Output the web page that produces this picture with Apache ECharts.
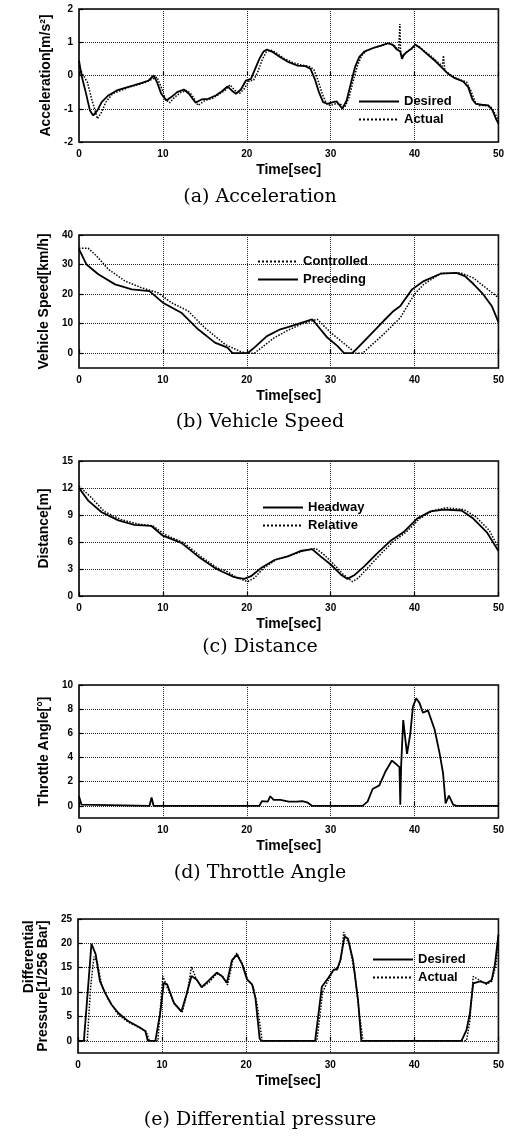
<!DOCTYPE html>
<html>
<head>
<meta charset="utf-8">
<script src="https://cdn.jsdelivr.net/npm/echarts@6.0.0/dist/echarts.min.js"></script>
<style>
html, body { margin: 0; padding: 0; background: #fff; }
#chart { width: 507px; height: 1137px; }
</style>
</head>
<body>
<div id="chart"></div>
<script>
// tick labels
const timeTicks = [0, 10, 20, 30, 40, 50];
const accTicks = [-2, -1, 0, 1, 2];
const speedTicks = [0, 10, 20, 30, 40];
const distTicks = [0, 3, 6, 9, 12, 15];
const throttleTicks = [0, 2, 4, 6, 8, 10];
const pressureTicks = [0, 5, 10, 15, 20, 25];

// (a) acceleration [m/s^2]
const accDesT = [0, 0.3, 0.8, 1.3, 1.7, 2.2, 2.7, 3.5, 4.5, 5.5, 6.5, 7.5, 8.3, 8.9, 9.3, 9.8, 10.4, 11, 11.7, 12.5, 13.1, 13.9, 14.6, 15.4, 16.3, 17, 17.7, 18.2, 18.7, 19.3, 19.9, 20.5, 21, 21.5, 22, 22.4, 23, 24, 25, 26, 27, 27.6, 28.1, 28.6, 29.1, 29.6, 30.3, 30.7, 31.4, 31.9, 32.4, 32.9, 33.4, 34, 35, 36, 36.8, 37.4, 37.9, 38.3, 38.5, 38.8, 39.5, 40.1, 40.8, 41.6, 42.4, 43.2, 44, 44.8, 45.8, 46.4, 46.9, 47.3, 48, 48.8, 49.3, 49.7, 50];
const accDes = [0.45, 0, -0.5, -1.05, -1.2, -1.05, -0.8, -0.6, -0.45, -0.37, -0.3, -0.22, -0.15, 0, -0.2, -0.55, -0.75, -0.65, -0.5, -0.42, -0.55, -0.82, -0.72, -0.7, -0.6, -0.48, -0.33, -0.45, -0.55, -0.42, -0.15, -0.1, 0.2, 0.5, 0.72, 0.78, 0.72, 0.55, 0.4, 0.3, 0.28, 0.2, -0.1, -0.5, -0.8, -0.85, -0.8, -0.78, -1.0, -0.75, -0.25, 0.25, 0.55, 0.72, 0.82, 0.9, 0.97, 0.92, 0.78, 0.72, 0.5, 0.65, 0.78, 0.93, 0.8, 0.62, 0.45, 0.25, 0.05, -0.08, -0.18, -0.35, -0.72, -0.85, -0.88, -0.9, -1.05, -1.3, -1.45];
const accActT = [0, 0.4, 1.0, 1.5, 2.2, 2.7, 3.2, 4, 5, 6, 7, 8, 8.8, 9.3, 9.8, 10.3, 10.8, 11.4, 12.2, 12.9, 13.5, 14.2, 15, 15.8, 16.6, 17.4, 18, 18.6, 19.1, 19.7, 20.3, 20.8, 21.3, 21.8, 22.3, 22.8, 23.4, 24.4, 25.4, 26.4, 27.4, 28, 28.5, 29, 29.5, 30, 30.6, 31.1, 31.7, 32.2, 32.7, 33.2, 33.7, 34.3, 35.3, 36.3, 37, 37.6, 38.1, 38.25, 38.35, 38.45, 38.7, 39.1, 39.8, 40.4, 41.1, 41.9, 42.7, 43.3, 43.45, 43.6, 44.3, 45.1, 46.2, 46.7, 47.2, 47.7, 48.4, 49.1, 49.6, 50];
const accAct = [0.3, 0.05, -0.2, -0.7, -1.3, -1.1, -0.8, -0.55, -0.45, -0.35, -0.28, -0.2, -0.1, -0.05, -0.35, -0.7, -0.82, -0.65, -0.5, -0.45, -0.6, -0.9, -0.75, -0.7, -0.58, -0.45, -0.28, -0.45, -0.55, -0.4, -0.15, -0.15, 0.1, 0.45, 0.7, 0.77, 0.7, 0.52, 0.4, 0.32, 0.28, 0.18, -0.15, -0.55, -0.85, -0.9, -0.85, -0.85, -0.95, -0.65, -0.15, 0.3, 0.6, 0.75, 0.85, 0.92, 0.97, 0.9, 0.75, 1.55, 0.6, 0.65, 0.6, 0.72, 0.82, 0.9, 0.75, 0.6, 0.42, 0.28, 0.6, 0.15, 0.02, -0.1, -0.2, -0.45, -0.78, -0.9, -0.9, -0.95, -1.15, -1.35];

// (b) vehicle speed [km/h]
const spdPreT = [0, 0.9, 2.3, 4.3, 6.3, 8.4, 10, 12.2, 14.2, 16.2, 17.7, 18.3, 20.1, 20.9, 22.4, 24, 25, 26.5, 27.8, 29.6, 30.8, 31.6, 32.6, 34.4, 36.3, 37.5, 38.3, 39.7, 41.1, 43.1, 45, 46, 47, 48.2, 49.2, 50];
const spdPre = [35.2, 30, 26.7, 23.3, 21.6, 21, 17.1, 13.7, 8.1, 3.6, 1.9, 0, 0, 1.9, 5.8, 8.1, 8.9, 10.3, 11.5, 5.3, 2.5, 0, 0, 5.3, 10.9, 14.3, 16, 21.6, 24.4, 26.9, 27.2, 26.1, 23.5, 19.9, 16, 10.5];
const spdConT = [0, 1.1, 2.1, 3.5, 5.5, 7.4, 9.4, 11, 13, 15, 17.4, 19.3, 20, 20.9, 23.3, 25, 26.5, 28.4, 30, 31.5, 33, 33.8, 36.3, 38.3, 40, 41.1, 43.1, 45.5, 47, 49, 50];
const spdCon = [35.5, 35.5, 32.9, 28.4, 24.4, 22.2, 20.5, 17.1, 14.3, 8.6, 3, 0.5, 0, 0, 5.3, 7.9, 9.8, 11.5, 7, 3.5, 0, 0, 6.4, 12, 20, 23.3, 27, 27.2, 25.5, 21, 18.8];

// (c) distance [m]
const distHeadT = [0, 1.1, 2.7, 4.7, 6.6, 8.6, 10, 12.2, 14.2, 16.2, 17.1, 18.5, 19.7, 20.5, 21.7, 23.3, 24.9, 26.4, 27.8, 28.8, 30, 31.2, 32, 32.8, 34, 35.6, 37.1, 38.7, 40.3, 41.9, 43.5, 45.6, 47, 48.6, 50];
const distHead = [12, 10.6, 9.3, 8.4, 7.9, 7.8, 6.7, 5.9, 4.4, 3.1, 2.7, 2.1, 1.9, 2.2, 3.1, 4.0, 4.4, 5.0, 5.2, 4.4, 3.5, 2.4, 1.9, 2.3, 3.3, 4.8, 6.1, 7.1, 8.6, 9.4, 9.6, 9.5, 8.6, 7.1, 5.0];
const distRelT = [0, 1.4, 3, 5, 7, 8.8, 10.3, 12.5, 14.5, 16.5, 17.5, 18.9, 20.1, 20.9, 22, 23.6, 25.2, 26.7, 28.2, 29.2, 30.4, 31.5, 32.6, 33.3, 34.4, 36, 37.4, 39, 40.6, 42.2, 43.8, 45.9, 47.3, 48.9, 50];
const distRel = [12.2, 11, 9.4, 8.5, 8.0, 7.8, 6.8, 5.9, 4.4, 3.1, 2.8, 2.0, 1.6, 2.0, 3.1, 4.1, 4.5, 5.0, 5.3, 4.6, 3.5, 2.4, 1.6, 2.0, 3.1, 4.7, 6.0, 7.1, 8.6, 9.5, 9.8, 9.6, 8.8, 7.3, 5.4];

// (d) throttle angle [deg]
const thrT = [0, 0.3, 0.4, 8.4, 8.65, 8.9, 21.5, 21.8, 22.5, 22.8, 23.2, 24, 25, 26, 26.6, 27.2, 27.8, 33.8, 34.4, 35, 35.8, 36.5, 37.3, 37.9, 38.2, 38.3, 38.4, 38.65, 39.1, 39.5, 39.8, 40.2, 40.6, 41, 41.6, 42.4, 43, 43.4, 43.7, 44.1, 44.6, 45, 50];
const thr = [0.8, 0.1, 0, 0, 0.7, 0, 0, 0.4, 0.35, 0.8, 0.5, 0.5, 0.35, 0.35, 0.4, 0.3, 0, 0, 0.35, 1.4, 1.7, 2.8, 3.75, 3.4, 3.2, 0.1, 3.3, 7.1, 4.3, 6, 8.2, 8.9, 8.5, 7.7, 7.9, 6.3, 4.3, 2.7, 0.2, 0.85, 0.1, 0, 0];

// (e) differential pressure [1/256 bar]
const presDesT = [0, 0.7, 1.1, 1.6, 2.1, 2.6, 3.2, 4, 4.8, 6, 7.2, 8, 8.3, 9.2, 9.8, 10.2, 10.6, 11.4, 12.3, 12.9, 13.5, 14.1, 14.7, 15.5, 16.5, 17.1, 17.7, 18.3, 18.9, 19.5, 20.1, 20.7, 21.1, 21.6, 21.8, 28.2, 29, 29.8, 30.4, 30.8, 31.2, 31.7, 32.1, 32.7, 33.3, 33.7, 45.6, 46.2, 46.6, 47, 47.8, 48.6, 49.2, 49.6, 50];
const presDes = [0, 0, 8.8, 19.9, 17.8, 12.3, 9.9, 7.4, 5.7, 4.0, 2.9, 2.0, 0, 0, 6, 11.9, 11.6, 7.8, 6.0, 9.5, 13.3, 12.6, 11.0, 12.3, 14, 13.3, 11.9, 16.5, 17.7, 15.8, 12.6, 11.6, 8.8, 0.5, 0, 0, 11.1, 13, 14.6, 14.6, 16.6, 21.4, 21, 16.6, 8.4, 0, 0, 2.2, 5.6, 11.8, 12.2, 11.8, 12.5, 15.9, 21.8];
const presActT = [0, 1.1, 1.5, 1.9, 2.3, 2.8, 3.6, 4.8, 6, 7.2, 8.1, 8.5, 9.5, 9.9, 10.1, 10.6, 11.5, 12.4, 13, 13.5, 14.1, 14.8, 15.6, 16.5, 17.2, 17.8, 18.4, 18.9, 19.6, 20.2, 20.8, 21.3, 21.9, 28.4, 29.1, 29.9, 30.5, 30.9, 31.3, 31.6, 31.8, 32.3, 32.9, 33.5, 33.9, 46.2, 46.6, 47, 47.8, 48.6, 49.2, 49.7, 50];
const presAct = [0, 0, 11, 17.3, 16, 11.5, 8.5, 5.3, 3.8, 2.8, 1.9, 0, 0, 9, 13.3, 11, 7.5, 5.9, 10, 15.2, 12.5, 11, 12, 13.8, 13.2, 11.5, 16.5, 18.0, 15.6, 12.4, 11.4, 7.5, 0, 0, 10, 13, 14.8, 14.8, 17, 22.3, 21.5, 19.5, 14, 5, 0, 0, 4, 13.2, 12.4, 11.6, 12.2, 15.5, 21];

function zip(t, v) {
    return t.map((x, i) => [x, v[i]]);
}

const sans = 'Liberation Sans';

const panels = [
    { top: 9, height: 133, left: 79, min: -2, max: 2, ticks: accTicks, name: 'Acceleration[m/s²]', nameGap: 24, caption: '(a) Acceleration', captionY: 197, legend: ['Desired', 'Actual'], legendPos: [353, 90] },
    { top: 235, height: 133, left: 79, min: -5, max: 40, ticks: speedTicks, name: 'Vehicle Speed[km/h]', nameGap: 27, caption: '(b) Vehicle Speed', captionY: 422, legend: ['Controlled', 'Preceding'], legendPos: [252, 250] },
    { top: 461, height: 135, left: 79, min: 0, max: 15, ticks: distTicks, name: 'Distance[m]', nameGap: 25, caption: '(c) Distance', captionY: 647, legend: ['Headway', 'Relative'], legendPos: [257, 496] },
    { top: 685, height: 133, left: 79, min: -1, max: 10, ticks: throttleTicks, name: 'Throttle Angle[°]', nameGap: 25, caption: '(d) Throttle Angle', captionY: 873, legend: null },
    { top: 919, height: 134, left: 78, min: -2.5, max: 25, ticks: pressureTicks, name: '{a|Differential}\n{b|Pressure[1/256 Bar]}', nameGap: 21, caption: '(e) Differential pressure', captionY: 1120, legend: ['Desired', 'Actual'], legendPos: [367, 948] }
];

const seriesDefs = [
    { name: 'Desired', grid: 0, data: zip(accDesT, accDes), dotted: false },
    { name: 'Actual', grid: 0, data: zip(accActT, accAct), dotted: true },
    { name: 'Controlled', grid: 1, data: zip(spdConT, spdCon), dotted: true },
    { name: 'Preceding', grid: 1, data: zip(spdPreT, spdPre), dotted: false },
    { name: 'Headway', grid: 2, data: zip(distHeadT, distHead), dotted: false },
    { name: 'Relative', grid: 2, data: zip(distRelT, distRel), dotted: true },
    { name: 'Throttle', grid: 3, data: zip(thrT, thr), dotted: false },
    { name: 'Desired', grid: 4, data: zip(presDesT, presDes), dotted: false },
    { name: 'Actual', grid: 4, data: zip(presActT, presAct), dotted: true }
];

const gridLine = { show: true, lineStyle: { color: '#222', type: 'dotted', width: 1 } };
const labelStyle = { color: '#000', fontFamily: sans, fontWeight: 'bold', fontSize: 10 };
const nameStyle = { color: '#000', fontFamily: sans, fontWeight: 'bold', fontSize: 14 };

const option = {
    animation: false,
    backgroundColor: '#fff',
    grid: panels.map(p => ({
        left: p.left,
        top: p.top,
        width: 421,
        height: p.height,
        show: true,
        borderColor: '#000',
        borderWidth: 1.6,
        backgroundColor: 'transparent'
    })),
    xAxis: panels.map((p, i) => ({
        type: 'value',
        gridIndex: i,
        min: 0,
        max: 50,
        interval: 10,
        name: 'Time[sec]',
        nameLocation: 'middle',
        nameGap: 21,
        nameTextStyle: nameStyle,
        axisLine: { show: false },
        axisTick: { show: true, inside: true, length: 4, lineStyle: { color: '#000', width: 1.2 } },
        axisLabel: Object.assign({ margin: 7, showMinLabel: true, showMaxLabel: true }, labelStyle),
        splitLine: gridLine
    })),
    yAxis: panels.map((p, i) => ({
        type: 'value',
        gridIndex: i,
        min: p.min,
        max: p.max,
        name: p.name,
        nameLocation: 'middle',
        nameGap: p.nameGap,
        nameTextStyle: Object.assign({
            lineHeight: 14,
            rich: {
                a: { fontFamily: sans, fontWeight: 'bold', fontSize: 14, color: '#000', align: 'right', lineHeight: 14 },
                b: { fontFamily: sans, fontWeight: 'bold', fontSize: 14, color: '#000', lineHeight: 14 }
            }
        }, nameStyle),
        axisLine: { show: false },
        axisTick: { show: true, inside: true, length: 4, customValues: p.ticks, lineStyle: { color: '#000', width: 1.2 } },
        axisLabel: Object.assign({ margin: 6, customValues: p.ticks }, labelStyle),
        splitLine: gridLine
    })),
    legend: panels.filter(p => p.legend).map(p => ({
        data: p.legend,
        orient: 'vertical',
        left: p.legendPos[0],
        top: p.legendPos[1],
        itemWidth: 40,
        itemHeight: 12,
        itemGap: 5,
        selectedMode: false,
        itemStyle: { color: 'transparent', borderColor: 'transparent', borderWidth: 0, opacity: 0 },
        textStyle: { color: '#000', fontFamily: sans, fontWeight: 'bold', fontSize: 13 }
    })),
    graphic: panels.map(p => ({
        type: 'text',
        x: 260,
        y: p.captionY,
        style: {
            text: p.caption,
            fontFamily: 'DejaVu Serif',
            fontSize: 19,
            fill: '#000',
            align: 'center',
            verticalAlign: 'middle'
        }
    })),
    series: seriesDefs.map(s => ({
        name: s.name,
        type: 'line',
        xAxisIndex: s.grid,
        yAxisIndex: s.grid,
        data: s.data,
        symbol: 'none',
        color: '#000',
        lineStyle: { color: '#000', width: s.dotted ? 1.5 : 1.8, type: s.dotted ? 'dotted' : 'solid' }
    }))
};

const chart = echarts.init(document.getElementById('chart'));
chart.setOption(option);
</script>
</body>
</html>
